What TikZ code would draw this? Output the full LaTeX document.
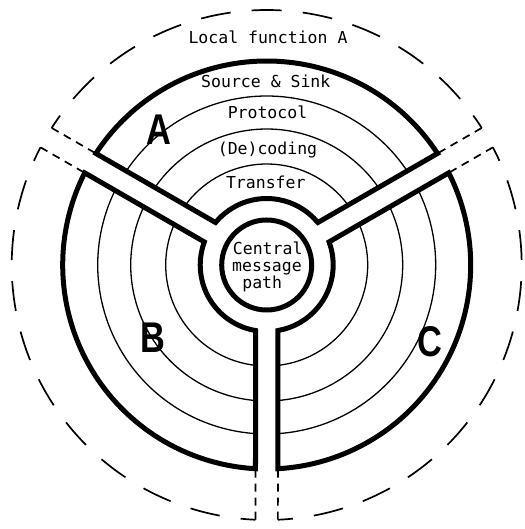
\documentclass[tikz,border=0pt]{standalone}
\usepackage{fontspec}
\newfontfamily\monof{DejaVu Sans Mono}
\newfontfamily\letf{Liberation Sans}
\begin{document}
\begin{tikzpicture}[x=1pt,y=1pt,
  wall/.style={line width=5pt, line join=miter, miter limit=20},
  ring/.style={line width=1.3pt},
  fdash/.style={line width=1.7pt, dash pattern=on 8pt off 6pt},
  lbl/.style={font=\monof\fontsize{16.5}{17}\selectfont, inner sep=0pt, anchor=base},
  big/.style={font=\letf\bfseries\fontsize{43}{43}\selectfont, inner sep=0pt, xscale=0.8}
]
\useasboundingbox (-266.7,-264) rectangle (257.3,265);
\def\dd{11.2}
\def\Ro{204}
\def\Rh{66.5}
\def\Rf{255}
\pgfmathsetmacro\ao{asin(\dd/\Ro)}
\pgfmathsetmacro\ah{asin(\dd/\Rh)}
\pgfmathsetmacro\af{asin(\dd/\Rf)}
\pgfmathsetmacro\arclen{(\Rf*pi/180)*(120-2*\af)}
\pgfmathsetmacro\per{\arclen/10}
\pgfmathsetlengthmacro\offl{\per-30}
\foreach \rot in {0,120,240}{
  \begin{scope}[rotate=\rot]
    \draw[wall] ({30+\ao}:\Ro) arc[start angle={30+\ao}, end angle={150-\ao}, radius=\Ro] -- ({150-\ah}:\Rh) arc[start angle={150-\ah}, end angle={30+\ah}, radius=\Rh] -- cycle;
    \foreach \r in {101,136,169}{
      \pgfmathsetmacro\ar{asin(\dd/\r)}
      \draw[ring] ({30+\ar}:\r) arc[start angle={30+\ar}, end angle={150-\ar}, radius=\r];
    }
    \draw[fdash] ({30+\af}:\Rf) -- ({30+\ao}:\Ro);
    \draw[fdash] ({150-\af}:\Rf) -- ({150-\ao}:\Ro);
    \draw[line width=1.7pt, dash pattern=on 30pt off \offl, dash phase=15pt] ({30+\af}:\Rf) arc[start angle={30+\af}, end angle={150-\af}, radius=\Rf];
  \end{scope}
}
\draw[wall] (0,0) circle[radius=45];
\node[big] (la) at (-107.7,135) {A};
\node[big] (lb) at (-113.4,-72.3) {B};
\node[big] (lc) at (163.3,-76.7) {C};
\node[lbl] (lf) at (1.3,221) {Local function A};
\node[lbl] (ss) at (-0.9,177) {Source \& Sink};
\node[lbl] (pr) at (0.8,146.5) {Protocol};
\node[lbl] (dc) at (0.8,110.5) {(De)coding};
\node[lbl] (tr) at (-0.9,76) {Transfer};
\node[lbl] (c1) at (1,10) {Central};
\node[lbl] (c2) at (0.3,-7) {message};
\node[lbl] (c3) at (-4.5,-23.5) {path};
\end{tikzpicture}
\end{document}
